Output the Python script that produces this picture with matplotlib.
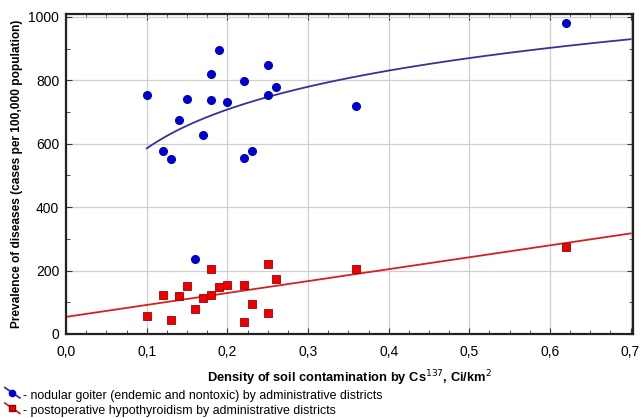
import matplotlib
matplotlib.use("Agg")
import matplotlib.pyplot as plt
import numpy as np
from matplotlib.lines import Line2D
from matplotlib.legend_handler import HandlerBase
from matplotlib.ticker import MultipleLocator, FuncFormatter

plt.rcParams['font.family'] = ['Liberation Sans', 'DejaVu Sans']

# nodular goiter, by district
goiter_x = [0.10, 0.12, 0.13, 0.14, 0.15, 0.16, 0.17, 0.18, 0.18, 0.19, 0.20,
            0.22, 0.22, 0.23, 0.25, 0.25, 0.26, 0.36, 0.62]
goiter_y = [755, 578, 552, 676, 742, 237, 627, 820, 738, 895, 731,
            797, 555, 577, 850, 755, 780, 718, 980]

# postoperative hypothyroidism, by district
hypo_x = [0.10, 0.12, 0.13, 0.14, 0.15, 0.16, 0.17, 0.18, 0.18, 0.19, 0.20,
          0.22, 0.22, 0.23, 0.25, 0.25, 0.26, 0.36, 0.62]
hypo_y = [57, 124, 43, 119, 150, 79, 115, 204, 122, 148, 154,
          154, 39, 95, 220, 65, 173, 206, 275]

# fitted curves: a + b*ln(x) and a + b*x
goiter_fit = (993, 177)
hypo_fit = (54, 376)

blue = '#0000cc'
blue_line = '#33339a'
red = '#ee0000'
red_line = '#d42020'


class SlantHandler(HandlerBase):
    # small slanted line with the marker in the middle, like the original legend
    def create_artists(self, legend, orig, xd, yd, width, height, fontsize, trans):
        ln = Line2D([xd, xd + width], [yd + height, yd], color=orig.get_color(),
                    lw=orig.get_linewidth(), transform=trans)
        mk = Line2D([xd + width / 2], [yd + height / 2], marker=orig.get_marker(),
                    mfc=orig.get_markerfacecolor(), mec=orig.get_markeredgecolor(),
                    ms=orig.get_markersize(), ls='none', transform=trans)
        return [ln, mk]


fig = plt.figure(figsize=(6.42, 4.18), dpi=100)
ax = fig.add_axes([0.103, 0.201, 0.883, 0.766])

xs = np.linspace(0.1, 0.7, 200)
ax.plot(xs, goiter_fit[0] + goiter_fit[1] * np.log(xs), color=blue_line, lw=1.3, zorder=2)
xl = np.linspace(0, 0.7, 50)
ax.plot(xl, hypo_fit[0] + hypo_fit[1] * xl, color=red_line, lw=1.3, zorder=2)

ax.plot(goiter_x, goiter_y, 'o', color=blue, ms=5.5, mec=blue, zorder=3)
ax.plot(hypo_x, hypo_y, 's', color=red, ms=6, mec='#a00000', mew=0.6, zorder=3)

ax.set_xlim(0, 0.703)
ax.set_ylim(0, 1010)
ax.xaxis.set_major_locator(MultipleLocator(0.1))
ax.xaxis.set_minor_locator(MultipleLocator(0.025))
ax.yaxis.set_major_locator(MultipleLocator(200))
ax.yaxis.set_minor_locator(MultipleLocator(100))
ax.xaxis.set_major_formatter(FuncFormatter(lambda v, p: f'{v:.1f}'.replace('.', ',')))
ax.tick_params(which='both', direction='in', top=True, right=True, labelsize=10,
               color='#333333')
ax.tick_params(which='major', length=4)
ax.tick_params(which='minor', length=3)
ax.tick_params(axis='x', pad=8)
ax.tick_params(axis='y', pad=5)
ax.grid(True, which='major', color='#d0d0d0', lw=0.9)
ax.set_axisbelow(True)
for s in ax.spines.values():
    s.set_linewidth(1.6)
    s.set_color('#222222')

ax.set_ylabel('Prevalence of diseases (cases per 100,000 population)', fontsize=8.6,
              fontweight='bold', labelpad=4)
ax.set_xlabel('Density of soil contamination by Cs$^{137}$, Ci/km$^{2}$', fontsize=9.3,
              fontweight='bold', labelpad=7)

handles = [Line2D([], [], color=blue_line, marker='o', mfc=blue, mec=blue, ms=4.5, lw=1.3),
           Line2D([], [], color=red_line, marker='s', mfc=red, mec='#a00000', ms=5, lw=1.3)]
labels = ['- nodular goiter (endemic and nontoxic) by administrative districts',
          '- postoperative hypothyroidism by administrative districts']
fig.legend(handles, labels, loc='lower left', bbox_to_anchor=(0.0, -0.01), frameon=False,
           fontsize=8.9, handlelength=1.2, handleheight=0.9, handletextpad=0.3,
           labelspacing=0.25, borderaxespad=0,
           handler_map={Line2D: SlantHandler()})

fig.savefig('out.png', dpi=100)
